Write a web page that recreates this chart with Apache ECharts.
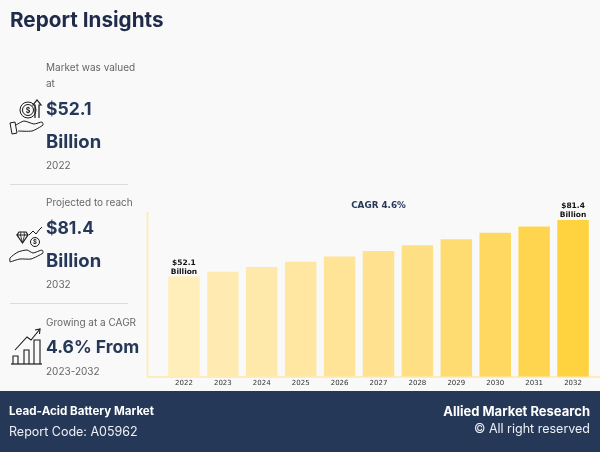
<!DOCTYPE html>
<html>
<head>
<meta charset="utf-8">
<style>
  html, body { margin: 0; padding: 0; background: #f9f9fa; }
  #chart { width: 600px; height: 452px; }
</style>
</head>
<body>
<div id="chart"></div>
<script src="https://cdn.jsdelivr.net/npm/echarts@6/dist/echarts.min.js"></script>
<script>
const years = ["2022", "2023", "2024", "2025", "2026", "2027", "2028", "2029", "2030", "2031", "2032"];
const marketValues = [52.1, 54.4, 56.9, 59.6, 62.4, 65.2, 68.2, 71.4, 74.7, 78.0, 81.4];
const labelledYears = ["2022", "2032"];

const NAVY = "#253858";
const UI_FONT = "Inter, 'Open Sans', sans-serif";
const BAR_FONT = "'DejaVu Sans', sans-serif";

function txt(x, y, text, size, weight, color, align) {
    return {
        type: "text",
        x: x,
        y: y,
        style: {
            text: text,
            fontFamily: UI_FONT,
            fontSize: size,
            fontWeight: weight,
            fill: color,
            align: align || "left",
            verticalAlign: "middle",
        },
    };
}

function rule(x1, y1, x2, y2, color, width) {
    return {
        type: "line",
        shape: { x1: x1, y1: y1, x2: x2, y2: y2 },
        style: { stroke: color, lineWidth: width || 1 },
    };
}

function poly(points, width, smooth) {
    return {
        type: "polyline",
        shape: { points: points, smooth: smooth || 0 },
        style: { stroke: "#1a1a1a", fill: null, lineWidth: width || 1 },
    };
}

function ring(cx, cy, r, width) {
    return {
        type: "circle",
        shape: { cx: cx, cy: cy, r: r },
        style: { stroke: "#1a1a1a", fill: null, lineWidth: width || 1 },
    };
}

// left column icons, rough line art
const iconCoin = [
    ring(28, 110, 8, 1), ring(28, 110, 5.5, 1),
    txt(28, 110.5, "$", 7, 700, "#1a1a1a", "center"),
    poly([[35, 118], [35, 105], [33, 105], [37, 100], [41, 105], [39, 105], [39, 118]], 1.2),
    poly([[10, 123], [15, 122], [17, 133], [12, 134], [10, 123]], 1),
    poly([[16, 125], [24, 121], [34, 124], [42, 122], [43, 125], [32, 131], [18, 131]], 1, 0.2),
];
const iconDiamond = [
    poly([[17, 235], [19, 232], [26, 232], [28, 235], [22.5, 243], [17, 235], [28, 235]], 1.2),
    poly([[21, 232], [20.5, 235], [22.5, 243], [24.5, 235], [24, 232]], 0.8),
    ring(35, 242, 4.5, 1),
    txt(35, 242.5, "$", 6, 700, "#1a1a1a", "center"),
    poly([[29, 235], [33, 231], [36, 234], [39, 230], [42, 227]], 1),
    poly([[10, 262], [10, 258], [18, 252], [27, 250], [33, 253], [42, 250], [43, 253], [31, 259], [20, 259], [10, 262]], 1, 0.2),
];
const iconGrowth = [
    rule(11, 364, 42, 364, "#1a1a1a", 1.2),
    poly([[13, 364], [13, 356], [18, 356], [18, 364]], 1.1),
    poly([[24, 364], [24, 350], [29, 350], [29, 364]], 1.1),
    poly([[34, 364], [34, 340], [40, 340], [40, 364]], 1.1),
    poly([[15, 350], [27, 337], [31, 340], [40, 329]], 1.1),
    poly([[35, 330], [40, 329], [39.5, 334]], 1.1),
];

const panel = [
    txt(10, 21, "Report Insights", 20.7, 700, "#1f2b49"),

    txt(46, 68, "Market was valued", 10, 400, "#666"),
    txt(46, 84, "at", 10, 400, "#666"),
    txt(46, 110, "$52.1", 17.5, 700, NAVY),
    txt(46, 142, "Billion", 18.5, 700, NAVY),
    txt(46, 166, "2022", 10, 400, "#666"),
    rule(10, 184.5, 128, 184.5, "#dcdcdc"),

    txt(46, 203, "Projected to reach", 10, 400, "#666"),
    txt(46, 229, "$81.4", 17.5, 700, NAVY),
    txt(46, 261, "Billion", 18.5, 700, NAVY),
    txt(46, 285, "2032", 10, 400, "#666"),
    rule(10, 303.5, 128, 303.5, "#dcdcdc"),

    txt(46, 323, "Growing at a CAGR", 10, 400, "#666"),
    txt(46, 348, "4.6% From", 17.5, 700, NAVY),
    txt(46, 372, "2023-2032", 10, 400, "#666"),

    // x axis line runs past the plot on both sides
    rule(147, 377, 600, 377, "#fdecbc", 2),
    rule(147.5, 212, 147.5, 377, "#fdecbc", 2),

    {
        type: "rect",
        shape: { x: 0, y: 391, width: 600, height: 61 },
        style: { fill: NAVY },
    },
    txt(9, 411.5, "Lead-Acid Battery Market", 11.6, 700, "#ffffff"),
    txt(9, 432, "Report Code: A05962", 12.5, 400, "#eef0f4"),
    txt(590, 412, "Allied Market Research", 13, 700, "#ffffff", "right"),
    txt(590, 429, "\u00a9 All right reserved", 12.5, 400, "#eef0f4", "right"),
].concat(iconCoin, iconDiamond, iconGrowth);

const chart = echarts.init(document.getElementById("chart"));

chart.setOption({
    backgroundColor: "#f9f9fa",
    animation: false,
    title: {
        text: "CAGR 4.6%",
        left: 373.5,
        top: 196,
        textAlign: "center",
        textStyle: {
            fontFamily: BAR_FONT,
            fontSize: 8.8,
            fontWeight: "bold",
            color: NAVY,
        },
    },
    grid: { left: 164.5, right: 7.5, top: 212, bottom: 75.5 },
    xAxis: {
        type: "category",
        data: years,
        axisLine: { show: false },
        axisTick: { show: false },
        axisLabel: {
            fontFamily: BAR_FONT,
            fontSize: 7,
            color: "#333",
            margin: 3,
        },
    },
    yAxis: {
        type: "value",
        min: 0,
        max: 85.5,
        show: false,
    },
    visualMap: {
        show: false,
        type: "continuous",
        dimension: 1,
        min: 52.1,
        max: 81.4,
        inRange: { color: ["#ffedba", "#ffe08a", "#ffd23f"] },
    },
    series: [
        {
            type: "bar",
            barWidth: 31.5,
            data: marketValues.map(function (v, i) {
                return {
                    value: v,
                    label: { show: labelledYears.indexOf(years[i]) >= 0 },
                };
            }),
            label: {
                position: "top",
                distance: 0,
                fontFamily: BAR_FONT,
                fontSize: 7.5,
                fontWeight: "bold",
                lineHeight: 9,
                color: "#111",
                formatter: function (p) {
                    return "$" + p.value.toFixed(1) + "\nBillion";
                },
            },
        },
    ],
    graphic: { elements: panel },
});
</script>
</body>
</html>
